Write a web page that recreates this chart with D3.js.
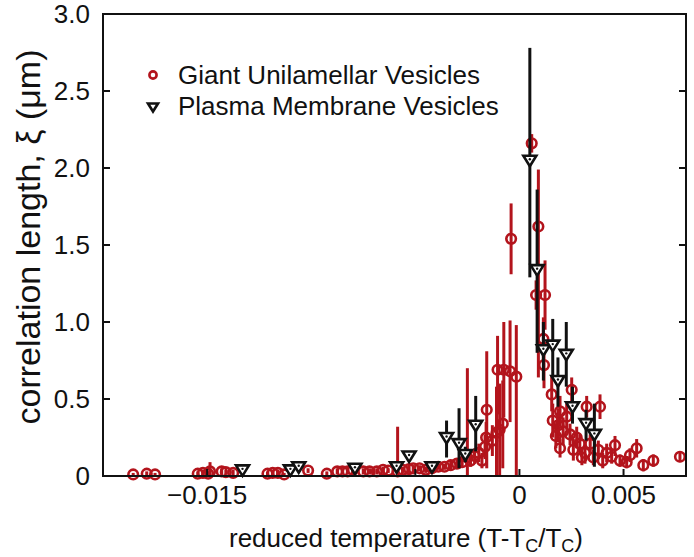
<!DOCTYPE html>
<html>
<head>
<meta charset="utf-8">
<script src="https://cdn.jsdelivr.net/npm/d3@7"></script>
<style>
  body { margin: 0; background: white; }
  text { font-family: "Liberation Sans", Arial, sans-serif; fill: #111; }
</style>
</head>
<body>
<div id="chart"></div>
<script>
// Reduced temperature values are in units of 1e-3 (scaled when plotted)
// Giant Unilamellar Vesicles: position, correlation length, error bar low/high
const guvT = [-18.55, -17.9, -17.5, -15.45, -15.2, -14.95, -14.86, -14.3, -14.1, -13.75,
  -12.1, -11.85, -11.6, -11.3, -10.15, -9.25, -8.75, -8.5, -8.25, -8.0,
  -7.5, -7.2, -6.85, -6.55, -6.3, -5.85, -5.6, -5.3, -5.1, -4.8,
  -4.5, -4.2, -3.9, -3.6, -3.3, -3.0, -2.75, -2.5, -2.35, -2.15,
  -1.95, -1.8, -1.65, -1.57, -1.6, -1.3, -1.1, -0.95, -0.8, -1.05,
  -0.75, -0.45, -0.15, -0.4, 0.59, 0.91, 0.8, 1.23, 1.15, 1.18,
  1.55, 1.6, 1.95, 1.87, 2.27, 2.51, 1.95, 2.43, 2.59, 2.9,
  3.15, 3.23, 3.87, 3.4, 3.79, 4.19, 4.43, 4.59, 4.83, 5.15,
  5.31, 5.63, 5.95, 6.43, 7.71, 1.75, 2.1, 2.75, 3.0, 3.55, 4.0];
const guvXi = [0.01, 0.015, 0.01, 0.015, 0.02, 0.015, 0.03, 0.03, 0.025, 0.02,
  0.015, 0.02, 0.02, 0.01, 0.035, 0.015, 0.03, 0.03, 0.03, 0.04,
  0.03, 0.03, 0.03, 0.04, 0.035, 0.03, 0.04, 0.045, 0.05, 0.05,
  0.04, 0.05, 0.06, 0.06, 0.07, 0.08, 0.09, 0.12, 0.10, 0.13,
  0.15, 0.10, 0.19, 0.43, 0.25, 0.23, 0.28, 0.30, 0.34, 0.69,
  0.69, 0.68, 0.645, 1.54, 2.16, 1.62, 1.175, 1.175, 0.89, 0.72,
  0.53, 0.36, 0.42, 0.33, 0.385, 0.56, 0.18, 0.27, 0.17, 0.21,
  0.15, 0.45, 0.45, 0.21, 0.17, 0.15, 0.125, 0.20, 0.10, 0.09,
  0.135, 0.18, 0.07, 0.10, 0.125, 0.26, 0.29, 0.25, 0.12, 0.12, 0.10];
const guvLow = [0, 0, 0, 0, 0, 0, 0, 0.01, 0.01, 0,
  0, 0, 0, 0, 0.02, 0, 0.01, 0.01, 0.01, 0.02,
  0.01, 0.01, 0.01, 0.02, 0.02, 0, 0.02, 0.02, 0.03, 0.03,
  0.02, 0.03, 0.04, 0.04, 0.04, 0.05, 0.06, 0, 0.06, 0.08,
  0.09, 0.05, 0.11, 0.05, 0.15, 0.13, 0, 0, 0.05, 0.40,
  0.38, 0.35, 0, 1.31, 2.10, 0.64, 1.08, 0.95, 0.75, 0.57,
  0.42, 0.25, 0.32, 0.22, 0.30, 0.48, 0.12, 0.20, 0.10, 0.15,
  0.08, 0.38, 0.37, 0.15, 0.11, 0.09, 0.08, 0.13, 0.06, 0.05,
  0.09, 0.12, 0.03, 0.06, 0.09, 0.18, 0.20, 0.18, 0.07, 0.07, 0.05];
const guvHigh = [0.02, 0.03, 0.02, 0.03, 0.04, 0.03, 0.09, 0.05, 0.04, 0.04,
  0.03, 0.04, 0.04, 0.02, 0.05, 0.03, 0.05, 0.05, 0.05, 0.06,
  0.05, 0.05, 0.05, 0.06, 0.05, 0.32, 0.06, 0.07, 0.07, 0.07,
  0.06, 0.07, 0.08, 0.08, 0.10, 0.11, 0.12, 0.70, 0.14, 0.18,
  0.21, 0.15, 0.27, 0.81, 0.35, 0.33, 0.58, 0.60, 0.62, 0.91,
  1.00, 1.01, 0.98, 1.77, 2.22, 1.99, 1.27, 1.40, 1.03, 0.86,
  0.65, 0.47, 0.52, 0.44, 0.47, 0.64, 0.24, 0.34, 0.24, 0.27,
  0.22, 0.52, 0.53, 0.27, 0.23, 0.21, 0.17, 0.26, 0.14, 0.13,
  0.18, 0.24, 0.11, 0.14, 0.16, 0.34, 0.38, 0.32, 0.17, 0.17, 0.15];

// Plasma Membrane Vesicles
const pmvT = [-13.3, -11.0, -10.6, -7.9, -5.9, -5.3, -4.2, -3.5, -2.9, -2.6,
  -2.1, 0.5, 0.85, 1.15, 1.6, 1.85, 2.25, 2.55, 3.2, 3.6];
const pmvXi = [0.04, 0.04, 0.06, 0.05, 0.06, 0.13, 0.06, 0.25, 0.21, 0.14,
  0.33, 2.05, 1.34, 0.82, 0.85, 0.62, 0.79, 0.45, 0.34, 0.27];
const pmvLow = [0.02, 0.02, 0.04, 0.03, 0.03, 0.10, 0.03, 0.12, 0.05, 0.09,
  0.16, 1.29, 0.80, 0.62, 0.65, 0.45, 0.58, 0.34, 0.23, 0.06];
const pmvHigh = [0.06, 0.06, 0.08, 0.07, 0.09, 0.16, 0.09, 0.36, 0.44, 0.19,
  0.52, 2.78, 1.86, 1.00, 1.02, 0.77, 1.00, 0.58, 0.43, 0.47];

const xTicks = [-0.015, -0.005, 0, 0.005];
const xTickLabels = ["\u22120.015", "\u22120.005", "0", "0.005"];
const yTicks = [0, 0.5, 1.0, 1.5, 2.0, 2.5, 3.0];
const yTickLabels = ["0", "0.5", "1.0", "1.5", "2.0", "2.5", "3.0"];
const legendLabels = ["Giant Unilamellar Vesicles", "Plasma Membrane Vesicles"];

const red = "#b3141c";
const width = 694, height = 557;
const margin = { left: 103, right: 8, top: 14, bottom: 81 };

const svg = d3.select("#chart").append("svg")
    .attr("width", width)
    .attr("height", height);

const x = d3.scaleLinear()
    .domain([-0.020, 0.008])
    .range([margin.left, width - margin.right]);

const y = d3.scaleLinear()
    .domain([0, 3.0])
    .range([height - margin.bottom, margin.top]);

function buildSeries(ts, xis, lows, highs) {
    return ts.map((t, i) => ({ t: t / 1000, xi: xis[i], lo: lows[i], hi: highs[i] }));
}
const guv = buildSeries(guvT, guvXi, guvLow, guvHigh);
const pmv = buildSeries(pmvT, pmvXi, pmvLow, pmvHigh);

const plot = svg.append("g");

// GUV error bars and circles
plot.selectAll(".guv-err").data(guv).enter().append("line")
    .attr("x1", d => x(d.t)).attr("x2", d => x(d.t))
    .attr("y1", d => y(Math.max(0, d.lo))).attr("y2", d => y(d.hi))
    .style("stroke", red).style("stroke-width", 3);

plot.selectAll(".guv-pt").data(guv).enter().append("circle")
    .attr("cx", d => x(d.t)).attr("cy", d => y(d.xi))
    .attr("r", 4.8)
    .style("fill", "none").style("stroke", red).style("stroke-width", 2.6);

// PMV error bars and triangles on top
const tri = "M-6.5,-4.5L6.5,-4.5L0,6Z";

plot.selectAll(".pmv-err").data(pmv).enter().append("line")
    .attr("x1", d => x(d.t)).attr("x2", d => x(d.t))
    .attr("y1", d => y(d.lo)).attr("y2", d => y(d.hi))
    .style("stroke", "#111").style("stroke-width", 3);

plot.selectAll(".pmv-pt").data(pmv).enter().append("path")
    .attr("d", tri)
    .attr("transform", d => `translate(${x(d.t)},${y(d.xi)})`)
    .style("fill", "white").style("stroke", "#111").style("stroke-width", 2.6)
    .style("stroke-linejoin", "miter");

plot.selectAll(".pmv-dot").data(pmv).enter().append("circle")
    .attr("cx", d => x(d.t)).attr("cy", d => y(d.xi) - 1)
    .attr("r", 1.2).style("fill", "#111");

// Frame
const x0 = x.range()[0], x1 = x.range()[1], y0 = y.range()[0], y1 = y.range()[1];
svg.append("rect")
    .attr("x", x0).attr("y", y1)
    .attr("width", x1 - x0).attr("height", y0 - y1)
    .style("fill", "none").style("stroke", "#111").style("stroke-width", 2);

// Ticks (inward) and labels
const tickLen = 7;
yTicks.forEach((v, i) => {
    svg.append("line").attr("x1", x0).attr("x2", x0 + tickLen)
        .attr("y1", y(v)).attr("y2", y(v)).style("stroke", "#111").style("stroke-width", 2);
    svg.append("line").attr("x1", x1).attr("x2", x1 - tickLen)
        .attr("y1", y(v)).attr("y2", y(v)).style("stroke", "#111").style("stroke-width", 2);
    svg.append("text")
        .attr("x", x0 - 13).attr("y", y(v)).attr("dy", "0.35em")
        .style("text-anchor", "end").style("font-size", "26px")
        .text(yTickLabels[i]);
});

xTicks.forEach((v, i) => {
    svg.append("line").attr("x1", x(v)).attr("x2", x(v))
        .attr("y1", y0).attr("y2", y0 - tickLen).style("stroke", "#111").style("stroke-width", 2);
    svg.append("text")
        .attr("x", x(v)).attr("y", y0 + 28)
        .style("text-anchor", "middle").style("font-size", "26px")
        .text(xTickLabels[i]);
});

// Axis titles
const xLabel = svg.append("text")
    .attr("x", 406).attr("y", 547)
    .style("text-anchor", "middle").style("font-size", "26px");
xLabel.append("tspan").text("reduced temperature (T-T");
xLabel.append("tspan").attr("dy", 5).style("font-size", "18px").text("C");
xLabel.append("tspan").attr("dy", -5).text("/T");
xLabel.append("tspan").attr("dy", 5).style("font-size", "18px").text("C");
xLabel.append("tspan").attr("dy", -5).text(")");

svg.append("text")
    .attr("transform", "translate(40, 237) rotate(-90)")
    .style("text-anchor", "middle").style("font-size", "34px")
    .text("correlation length, \u03be (\u03bcm)");

// Legend
const legend = svg.append("g");
legend.append("circle")
    .attr("cx", 153).attr("cy", 75).attr("r", 3.6)
    .style("fill", "none").style("stroke", red).style("stroke-width", 2.6);
legend.append("path")
    .attr("d", "M-5,-3.5L5,-3.5L0,4.5Z")
    .attr("transform", "translate(153,107)")
    .style("fill", "white").style("stroke", "#111").style("stroke-width", 2.6);
legendLabels.forEach((label, i) => {
    legend.append("text")
        .attr("x", 178).attr("y", 84 + i * 31)
        .style("font-size", "26px")
        .text(label);
});
</script>
</body>
</html>
